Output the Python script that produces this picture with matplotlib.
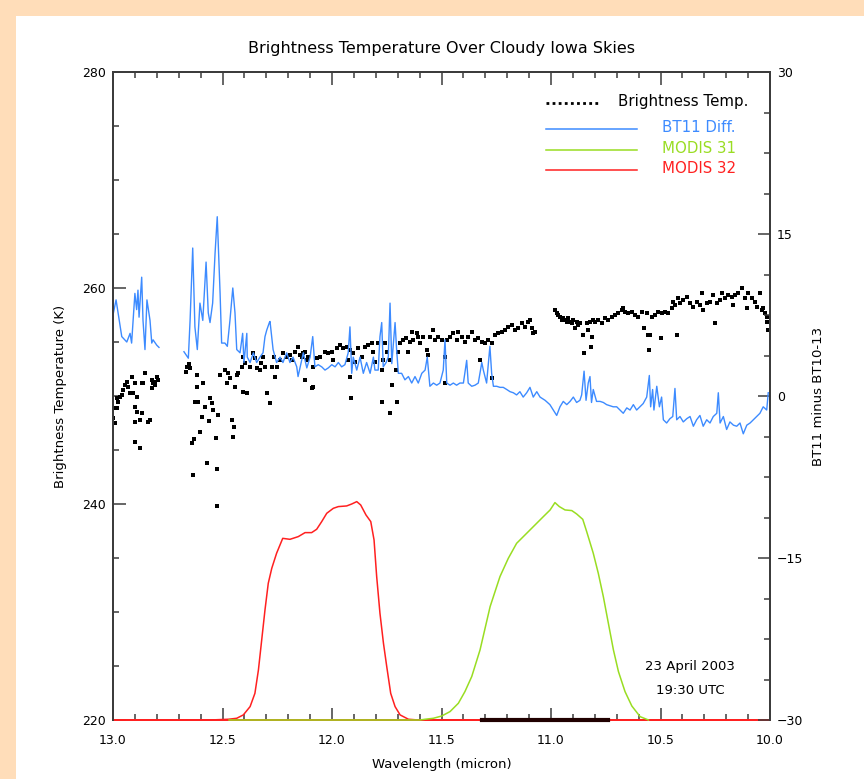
import numpy as np
import matplotlib
matplotlib.use("Agg")
import matplotlib.pyplot as plt
from matplotlib.patches import Rectangle
from matplotlib.ticker import MultipleLocator, FormatStrFormatter

# brightness temperature (K) observations
bt_wl = [12.998, 12.983, 12.998, 12.991, 12.983, 12.976, 12.968, 12.960, 12.953, 12.945,
         12.938, 12.930, 12.922, 12.915, 12.907, 12.900, 12.892, 12.900, 12.892, 12.869,
         12.900, 12.877, 12.900, 12.877, 12.861, 12.854, 12.831, 12.839, 12.823, 12.823,
         12.816, 12.808, 12.801, 12.793, 12.808, 12.869,
         12.667, 12.661, 12.651, 12.648, 12.615, 12.618, 12.588, 12.626, 12.610, 12.557,
         12.549, 12.542, 12.580, 12.595, 12.560, 12.519, 12.603, 12.630, 12.641, 12.530,
         12.572, 12.633, 12.524, 12.527, 12.511, 12.489, 12.481, 12.473, 12.466, 12.458,
         12.447, 12.450, 12.443, 12.435, 12.428, 12.413, 12.405, 12.408, 12.390, 12.397,
         12.374, 12.362, 12.352, 12.344, 12.329, 12.323, 12.316, 12.308, 12.297, 12.283,
         12.276, 12.265, 12.260, 12.253, 12.237, 12.222, 12.207, 12.192, 12.184, 12.169,
         12.154, 12.139, 12.124, 12.108,
         12.146, 12.131, 12.116, 12.123, 12.093, 12.085, 12.085, 12.070, 12.055, 12.032,
         12.017, 12.001, 11.994, 11.979, 11.963, 11.948, 11.933, 11.925, 11.918, 11.902,
         11.918, 11.915, 11.895, 11.880, 11.864, 11.849, 11.834, 11.819, 11.811, 11.804,
         11.788, 11.773, 11.769, 11.773, 11.758, 11.747, 11.735, 11.727, 11.735, 11.708,
         11.705, 11.697, 11.689, 11.674, 11.662, 11.651, 11.644, 11.636, 11.628, 11.613,
         11.606, 11.598, 11.583, 11.567, 11.560, 11.552, 11.537, 11.530, 11.514, 11.499,
         11.484, 11.476, 11.461, 11.446, 11.431, 11.423, 11.408, 11.392, 11.377, 11.362,
         11.347, 11.332, 11.324, 11.316, 11.301, 11.286, 11.271, 11.256, 11.240, 11.225,
         11.210, 11.195, 11.179, 11.164, 11.149, 11.134, 11.119, 11.103, 11.088, 11.081,
         11.073, 11.096, 11.271, 11.484,
         10.982, 10.974, 10.966, 10.959, 10.951, 10.943, 10.936, 10.928, 10.921, 10.913,
         10.905, 10.898, 10.890, 10.883, 10.875, 10.867, 10.855, 10.848, 10.837, 10.829,
         10.822, 10.819, 10.814, 10.806, 10.799, 10.784, 10.768, 10.753, 10.738, 10.723,
         10.707, 10.692, 10.677, 10.669, 10.662, 10.647, 10.631, 10.616, 10.601, 10.586,
         10.575, 10.563, 10.555, 10.548, 10.551, 10.540, 10.525, 10.510, 10.499, 10.494,
         10.479, 10.464, 10.449, 10.441, 10.434, 10.426, 10.418, 10.411, 10.395, 10.380,
         10.365, 10.350, 10.335, 10.319, 10.312, 10.304, 10.289, 10.274, 10.259, 10.251,
         10.243, 10.228, 10.220, 10.205, 10.190, 10.175, 10.160, 10.144, 10.129, 10.114,
         10.099, 10.084, 10.068, 10.061, 10.046, 10.038, 10.030, 10.023, 10.015, 10.012,
         10.008, 10.167, 10.106]
bt_k = [248.86, 248.86, 247.93, 247.47, 249.78, 249.47, 249.94, 250.09, 250.55, 251.02,
        251.33, 250.86, 250.25, 251.79, 250.25, 251.17, 249.94, 249.01, 248.55, 248.39,
        247.62, 247.78, 245.77, 245.15, 251.17, 252.10, 247.78, 247.62, 251.48, 250.71,
        251.17, 251.33, 251.79, 251.48, 251.02, 251.17,
        252.25, 252.71, 252.96, 252.56, 251.94, 250.86, 251.17, 249.47, 249.47, 249.78,
        249.32, 248.70, 249.01, 248.08, 247.71, 248.24, 246.70, 245.99, 245.62, 246.14,
        243.83, 242.68, 243.21, 239.81, 251.94, 252.41, 251.17, 252.10, 251.63, 247.78,
        247.16, 246.23, 250.80, 251.94, 252.10, 252.71, 253.64, 250.40, 250.25, 253.02,
        252.71, 253.95, 253.49, 252.56, 252.41, 253.02, 253.64, 252.71, 250.31, 249.38,
        252.71, 253.64, 251.79, 252.71, 253.33, 253.95, 253.64, 253.79, 253.33, 254.10,
        254.57, 253.64, 254.10, 253.64,
        253.79, 253.95, 253.33, 251.48, 250.71, 250.86, 252.71, 253.48, 253.64, 254.10,
        253.95, 254.10, 253.33, 254.41, 254.72, 254.41, 254.57, 253.33, 254.26, 253.95,
        251.79, 249.78, 253.18, 254.41, 253.64, 254.57, 254.72, 254.88, 254.10, 253.18,
        254.88, 252.41, 253.33, 249.47, 254.88, 254.10, 253.33, 251.02, 248.39, 252.41,
        249.47, 254.10, 254.88, 255.18, 255.34, 254.10, 255.03, 255.95, 255.18, 255.80,
        255.49, 254.88, 255.49, 254.26, 253.79, 255.49, 256.11, 255.18, 255.49, 255.18,
        253.64, 255.18, 255.49, 255.80, 255.18, 255.95, 255.49, 255.03, 255.49, 255.95,
        255.18, 255.34, 253.33, 255.03, 254.88, 255.18, 254.88, 255.64, 255.80, 255.95,
        256.11, 256.42, 256.57, 256.11, 256.26, 256.72, 256.42, 256.88, 256.26, 255.80,
        255.95, 257.03, 251.63, 251.17,
        257.96, 257.65, 257.50, 257.35, 257.04, 257.19, 257.04, 256.88, 257.19, 256.88,
        256.73, 257.04, 256.26, 256.88, 256.57, 256.73, 255.65, 254.01, 256.73, 256.11,
        256.88, 254.57, 255.49, 257.04, 256.88, 257.04, 256.73, 257.19, 257.04, 257.35,
        257.50, 257.65, 257.96, 258.12, 257.81, 257.65, 257.81, 257.50, 257.35, 257.81,
        256.26, 257.65, 255.65, 255.65, 254.26, 257.35, 257.50, 257.81, 255.34, 257.65,
        257.81, 257.65, 258.12, 258.73, 258.43, 255.65, 259.04, 258.58, 258.89, 259.20,
        258.58, 258.27, 258.73, 258.43, 259.51, 257.96, 258.58, 258.73, 259.35, 256.73,
        258.58, 258.89, 259.51, 259.04, 259.35, 259.20, 259.35, 259.51, 259.97, 259.04,
        259.51, 259.04, 258.73, 258.27, 259.51, 257.96, 258.12, 257.65, 257.35, 256.88,
        256.11, 258.43, 258.12]

# BT11 minus BT10-13 difference (K); nan marks the data gap
diff_wl = [13.000, 12.986, 12.960, 12.937, 12.922, 12.915, 12.900, 12.892, 12.886, 12.881,
           12.869, 12.863, 12.854, 12.845, 12.831, 12.823, 12.817, 12.800, 12.790, np.nan,
           12.676, 12.656, 12.648, 12.636, 12.626, 12.615, 12.603, 12.590, 12.575, 12.565,
           12.557, 12.545, 12.534, 12.524, 12.511, 12.504, 12.489, 12.478, 12.466, 12.453,
           12.443, 12.435, 12.420, 12.408, 12.402, 12.389, 12.387, 12.374, 12.359, 12.344,
           12.329, 12.315, 12.306, 12.298, 12.286, 12.283, 12.269, 12.253, 12.237, 12.224,
           12.207, 12.192, 12.178, 12.161, 12.155,
           12.131, 12.115, 12.100, 12.088, 12.078, 12.063, 12.047, 12.032, 12.017, 12.001,
           11.986, 11.971, 11.956, 11.941, 11.926, 11.918, 11.910, 11.903, 11.887, 11.872,
           11.857, 11.842, 11.826, 11.811, 11.804, 11.789, 11.781, 11.773, 11.766, 11.753,
           11.743, 11.735, 11.727, 11.712, 11.705, 11.697, 11.682, 11.667, 11.651, 11.636,
           11.621, 11.606, 11.590, 11.575, 11.565, 11.553, 11.537, 11.522, 11.507, 11.492,
           11.484, 11.476, 11.461, 11.446, 11.431, 11.416, 11.400, 11.385, 11.378, 11.362,
           11.347, 11.332, 11.316, 11.309, 11.294, 11.279, 11.271, 11.263, 11.248, 11.233,
           11.218, 11.202, 11.187, 11.172, 11.157, 11.142, 11.127, 11.111, 11.096, 11.081,
           11.065, 11.050, 11.027, 11.005, 10.974,
           10.959, 10.944, 10.928, 10.913, 10.898, 10.883, 10.868, 10.860, 10.849, 10.840,
           10.830, 10.822, 10.815, 10.807, 10.792, 10.776, 10.761, 10.746, 10.716, 10.700,
           10.685, 10.670, 10.654, 10.639, 10.624, 10.609, 10.594, 10.579, 10.563, 10.551,
           10.545, 10.536, 10.530, 10.517, 10.505, 10.495, 10.487, 10.472, 10.457, 10.444,
           10.434, 10.426, 10.411, 10.396, 10.380, 10.365, 10.350, 10.335, 10.320, 10.305,
           10.289, 10.274, 10.259, 10.243, 10.236, 10.228, 10.213, 10.198, 10.183, 10.167,
           10.152, 10.137, 10.122, 10.106, 10.091, 10.076, 10.061, 10.046, 10.031, 10.015,
           10.008]
diff_k = [7.5, 8.9, 5.5, 5.0, 5.8, 4.9, 9.5, 8.0, 9.8, 7.3,
          11.0, 7.0, 4.3, 8.9, 7.0, 4.9, 5.2, 4.7, 4.5, np.nan,
          4.1, 3.5, 7.0, 13.7, 6.4, 4.3, 8.6, 7.0, 12.4, 7.7,
          6.8, 8.6, 13.2, 16.6, 9.5, 4.9, 4.9, 4.6, 7.0, 10.0,
          7.7, 4.3, 4.0, 5.8, 3.1, 5.8, 3.6, 3.1, 4.0, 3.1,
          3.6, 4.0, 5.5, 6.1, 6.8, 6.9, 4.3, 3.1, 3.6, 3.1,
          4.0, 3.1, 3.6, 2.7, 1.8,
          4.0, 2.6, 3.6, 5.5, 2.7, 2.9, 2.7, 2.4, 2.6, 2.9,
          2.7, 3.1, 2.7, 2.9, 4.0, 6.4, 2.1, 3.6, 2.4, 3.6,
          2.1, 3.1, 2.1, 3.6, 2.4, 2.4, 5.5, 6.8, 2.7, 3.1,
          3.6, 8.6, 3.0, 6.8, 4.3, 2.1, 2.1, 1.5, 1.8, 1.2,
          1.8, 1.2, 2.1, 2.4, 3.6, 0.9, 1.2, 1.0, 1.2, 2.4,
          5.2, 1.2, 1.0, 1.2, 1.0, 1.2, 1.2, 3.3, 1.2, 0.9,
          1.0, 1.2, 3.1, 2.4, 1.2, 4.6, 2.1, 0.9, 0.9, 0.8,
          0.8, 0.6, 0.4, 0.3, 0.1, 0.4, -0.1, 0.3, 0.8, -0.1,
          0.4, -0.1, -0.4, -0.8, -1.8,
          -1.0, -0.5, -0.8, -0.5, -0.1, -0.6, -0.4, 0.1, 2.3, -0.4,
          1.2, 1.8, -0.6, 0.6, -0.5, -0.5, -0.6, -0.8, -1.0, -1.0,
          -1.3, -1.6, -1.1, -1.3, -0.8, -1.3, -1.0, -0.7, -0.1, 1.9,
          -1.0, 0.6, -1.3, 0.9, -1.0, -0.1, -2.2, -2.5, -2.1, -1.9,
          0.7, -2.2, -1.9, -2.4, -2.1, -1.9, -2.8, -2.2, -1.8, -2.8,
          -2.2, -2.5, -1.9, -1.6, 0.3, -2.5, -1.9, -3.1, -2.4, -2.7,
          -2.8, -2.5, -3.5, -2.7, -2.5, -2.2, -1.9, -1.6, -1.0, -1.3,
          0.3]

# MODIS band 32 spectral response, drawn in temperature units
m32_wl = [13.0, 12.557, 12.473, 12.435, 12.405, 12.374, 12.352, 12.336, 12.321, 12.306,
          12.291, 12.275, 12.253, 12.225, 12.192, 12.154, 12.123, 12.093, 12.070, 12.047,
          12.024, 11.994, 11.971, 11.933, 11.910, 11.887, 11.869, 11.845, 11.823, 11.808,
          11.796, 11.781, 11.765, 11.750, 11.732, 11.712, 11.689, 11.651, 11.606, 10.0]
m32_k = [220.0, 220.0, 220.07, 220.16, 220.47, 221.24, 222.47, 224.63, 227.41, 230.19,
         232.66, 234.05, 235.44, 236.82, 236.73, 236.98, 237.35, 237.35, 237.66, 238.37,
         239.14, 239.60, 239.76, 239.82, 240.00, 240.22, 239.91, 238.99, 238.37, 236.67,
         233.28, 229.88, 227.10, 224.94, 222.47, 221.24, 220.47, 220.07, 220.0, 220.0]

# MODIS band 31 spectral response
m31_wl = [12.47, 11.598, 11.575, 11.537, 11.499, 11.461, 11.423, 11.393, 11.362, 11.324,
          11.278, 11.233, 11.195, 11.157, 11.111, 11.073, 11.035, 11.004, 10.982, 10.962,
          10.936, 10.905, 10.883, 10.855, 10.837, 10.807, 10.784, 10.761, 10.738, 10.715,
          10.692, 10.662, 10.631, 10.593, 10.555]
m31_k = [220.0, 220.0, 220.07, 220.16, 220.37, 220.78, 221.55, 222.63, 224.02, 226.49,
         230.50, 233.28, 234.97, 236.36, 237.29, 238.06, 238.83, 239.45, 240.13, 239.76,
         239.45, 239.39, 239.08, 238.58, 237.44, 235.44, 233.58, 231.42, 228.95, 226.49,
         224.48, 222.63, 221.30, 220.31, 220.0]

band_wl = [11.316, 10.738]
band_k = [220.0, 220.0]

axis_col = "#3c3c3c"
red = "#ff2020"
green = "#99dd22"
blue = "#3d8bff"

fig = plt.figure(figsize=(8.64, 7.79), dpi=100)
fig.patch.set_facecolor("#FFDDB9")
fig.patches.append(Rectangle((16 / 864, 0), 1, 763 / 779, transform=fig.transFigure,
                             facecolor="white", edgecolor="none", zorder=-1))

ax = fig.add_axes([113 / 864, 59 / 779, 657 / 864, 648 / 779])
ax.plot(m32_wl, m32_k, color=red, lw=1.1, clip_on=False, zorder=3)
ax.plot(m31_wl, m31_k, color=green, lw=1.1, clip_on=False, zorder=3.1)
ax.plot(band_wl, band_k, color="#200000", lw=3, clip_on=False, zorder=3.2)
ax.plot(bt_wl, bt_k, ls="none", marker="s", ms=2.5, mew=0, color="black", zorder=2)
ax.set_xlim(13.0, 10.0)
ax.set_ylim(220, 280)

ax2 = ax.twinx()
ax2.plot(diff_wl, diff_k, color=blue, lw=1)
ax2.set_ylim(-30, 30)

for a in (ax, ax2):
    for s in a.spines.values():
        s.set_color(axis_col)
        s.set_linewidth(1.4)
ax.spines["bottom"].set_color(red)
ax2.spines["bottom"].set_visible(False)

ax.xaxis.set_major_locator(MultipleLocator(0.5))
ax.xaxis.set_minor_locator(MultipleLocator(0.1))
ax.xaxis.set_major_formatter(FormatStrFormatter("%.1f"))
ax.yaxis.set_major_locator(MultipleLocator(20))
ax.yaxis.set_minor_locator(MultipleLocator(5))
ax2.yaxis.set_major_locator(MultipleLocator(15))
ax2.yaxis.set_minor_locator(MultipleLocator(3.75))

ax.tick_params(which="both", direction="in", top=True, right=False, color=axis_col,
               labelsize=9, pad=5)
ax.tick_params(axis="x", which="both", pad=10)
ax.tick_params(which="major", length=9, width=1.1)
ax.tick_params(which="minor", length=4.5, width=1.1)
ax2.tick_params(which="both", direction="in", color=axis_col, labelsize=9, pad=5)
ax2.tick_params(which="major", length=9, width=1.1)
ax2.tick_params(which="minor", length=4.5, width=1.1)

ax.set_xlabel("Wavelength (micron)", fontsize=9.5)
ax.xaxis.set_label_coords(0.5, -0.058)
ax.set_ylabel("Brightness Temperature (K)", fontsize=9.5)
ax.yaxis.set_label_coords(-0.070, 0.5)
ax2.set_ylabel("BT11 minus BT10-13", fontsize=9.5)
ax2.yaxis.set_label_coords(1.064, 0.5)
ax.text(0.5, 1.037, "Brightness Temperature Over Cloudy Iowa Skies", transform=ax.transAxes,
        ha="center", va="center", fontsize=11.5)

# legend, IDL style
ax2.plot([0.659, 0.741], [0.952, 0.952], transform=ax2.transAxes, color="black",
         ls=(0, (1, 1.2)), lw=2)
ax2.text(0.769, 0.955, "Brightness Temp.", transform=ax2.transAxes, va="center",
         fontsize=10.8, color="black")
leg = [("BT11 Diff.", blue, 0.912), ("MODIS 31", green, 0.880), ("MODIS 32", red, 0.849)]
for name, col, yy in leg:
    ax2.plot([0.659, 0.798], [yy, yy], transform=ax2.transAxes, color=col, lw=1.1)
    ax2.text(0.836, yy + 0.002, name, transform=ax2.transAxes, va="center",
             fontsize=10.8, color=col)

ax2.text(0.878, 0.082, "23 April 2003", transform=ax2.transAxes, ha="center",
         va="center", fontsize=9.5)
ax2.text(0.878, 0.046, "19:30 UTC", transform=ax2.transAxes, ha="center",
         va="center", fontsize=9.5)

fig.savefig("out.png", dpi=100, facecolor=fig.get_facecolor())
